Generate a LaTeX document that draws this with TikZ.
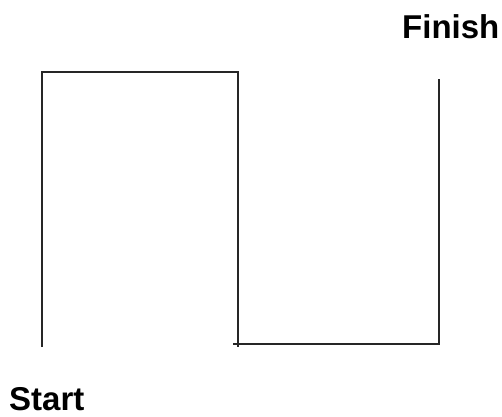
\documentclass[tikz,border=0pt]{standalone}
\usepackage{fontspec}
\setmainfont{Liberation Sans}
\usetikzlibrary{positioning}

\begin{document}
\begin{tikzpicture}[x=1pt, y=-1pt,
        wire/.style={line width=1.6pt, draw=black!85},
        every node/.style={inner sep=0pt, font=\fontsize{33}{36}\selectfont\bfseries}]
        \useasboundingbox (0,0) rectangle (502,416);
        % path corners
        \coordinate (s) at (42,347);
        \coordinate (a) at (42,72);
        \coordinate (b) at (238,72);
        \coordinate (c) at (238,347);
        \coordinate (d) at (233,344);
        \coordinate (e) at (439,344);
        \coordinate (f) at (439,79);
        \draw[wire] (s) -- (a) -- (b) -- (c);
        \draw[wire] (d) -- (e) -- (f);
        \node[anchor=base west] (start) at (9,410) {Start};
        \node[anchor=base west] (finish) at (402,38) {Finish};
      \end{tikzpicture}
\end{document}
